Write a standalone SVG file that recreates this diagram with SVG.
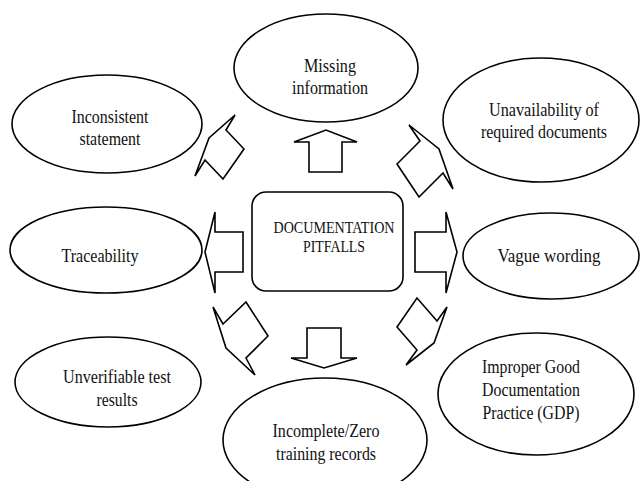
<svg xmlns="http://www.w3.org/2000/svg" width="641" height="481" viewBox="0 0 641 481">
<style>
.shape{fill:#fff;stroke:#000;stroke-width:1.6}
.arrow{fill:#fff;stroke:#000;stroke-width:1.6;stroke-linejoin:miter}
text{font-family:"Liberation Serif","Times New Roman",serif;font-size:18px;fill:#111;text-anchor:middle}
.center text{font-size:16px}
</style>
<rect width="641" height="481" fill="#fff"/>
<g id="connectors">
<polygon class="arrow" points="309,172 309,142 294,142 326,130 357,142 342,142 342,172"/>
<polygon class="arrow" points="307,328 341,328 341,358 357,358 324,368 291,358 307,358"/>
<polygon class="arrow" points="243,232 215,232 215,212 205,252 215,293 215,272 243,272"/>
<polygon class="arrow" points="415,232 446,232 446,212 457,252 446,293 446,272 415,272"/>
<polygon class="arrow" points="235,115 226,130 244,149 223,179 205,160 195,176 209,138"/>
<polygon class="arrow" points="409,125 420,141 397,164 419,197 443,173 453,189 439,149"/>
<polygon class="arrow" points="213,307 223,324 246,302 268,336 246,358 255,375 226,348"/>
<polygon class="arrow" points="397,327 417,298 437,321 447,307 434,343 406,365 417,350"/>
</g>
<g id="center" class="center">
<rect class="shape" x="252" y="192" width="151" height="99" rx="14"/>
<text x="334" y="233" textLength="121" lengthAdjust="spacingAndGlyphs">DOCUMENTATION</text>
<text x="334" y="252" textLength="62" lengthAdjust="spacingAndGlyphs">PITFALLS</text>
</g>
<g id="missing">
<ellipse class="shape" cx="326" cy="68" rx="92" ry="54"/>
<text x="330" y="72" textLength="52" lengthAdjust="spacingAndGlyphs">Missing</text>
<text x="330" y="94" textLength="76" lengthAdjust="spacingAndGlyphs">information</text>
</g>
<g id="inconsistent">
<ellipse class="shape" cx="107" cy="124" rx="95" ry="49"/>
<text x="110" y="123" textLength="77" lengthAdjust="spacingAndGlyphs">Inconsistent</text>
<text x="110" y="145" textLength="61" lengthAdjust="spacingAndGlyphs">statement</text>
</g>
<g id="unavailability">
<ellipse class="shape" cx="541" cy="120" rx="98" ry="62"/>
<text x="544" y="116" textLength="110" lengthAdjust="spacingAndGlyphs">Unavailability of</text>
<text x="544" y="138" textLength="126" lengthAdjust="spacingAndGlyphs">required documents</text>
</g>
<g id="traceability">
<ellipse class="shape" cx="106" cy="250" rx="96" ry="43"/>
<text x="100" y="262" textLength="77" lengthAdjust="spacingAndGlyphs">Traceability</text>
</g>
<g id="vague">
<ellipse class="shape" cx="551" cy="256" rx="88" ry="43"/>
<text x="549" y="262" textLength="103" lengthAdjust="spacingAndGlyphs">Vague wording</text>
</g>
<g id="unverifiable">
<ellipse class="shape" cx="108" cy="382" rx="93" ry="45"/>
<text x="117" y="383" textLength="108" lengthAdjust="spacingAndGlyphs">Unverifiable test</text>
<text x="117" y="406" textLength="41" lengthAdjust="spacingAndGlyphs">results</text>
</g>
<g id="incomplete">
<ellipse class="shape" cx="325" cy="440" rx="102" ry="62"/>
<text x="326" y="437" textLength="107" lengthAdjust="spacingAndGlyphs">Incomplete/Zero</text>
<text x="326" y="460" textLength="100" lengthAdjust="spacingAndGlyphs">training records</text>
</g>
<g id="improper">
<ellipse class="shape" cx="536" cy="394" rx="98" ry="61"/>
<text x="531" y="373" textLength="98" lengthAdjust="spacingAndGlyphs">Improper Good</text>
<text x="531" y="396" textLength="98" lengthAdjust="spacingAndGlyphs">Documentation</text>
<text x="531" y="419" textLength="97" lengthAdjust="spacingAndGlyphs">Practice (GDP)</text>
</g>
</svg>
